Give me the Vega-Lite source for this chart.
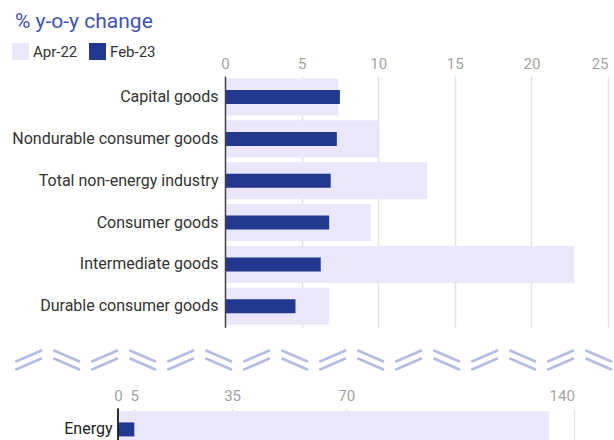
{
  "$schema": "https://vega.github.io/schema/vega-lite/v6.json",
  "padding": {"left": 10, "top": 10, "right": 0, "bottom": 0},
  "config": {
    "font": "Roboto",
    "view": {"stroke": null},
    "axis": {"labelFont": "Roboto"},
    "legend": {"labelFont": "Roboto"}
  },
  "title": {
    "text": "% y-o-y change",
    "anchor": "start",
    "fontSize": 21,
    "fontWeight": "normal",
    "color": "#4153B4",
    "offset": 11.5,
    "dx": 5
  },
  "datasets": {
    "industry": [
      {"category": "Capital goods", "series": "Apr-22", "value": 7.4},
      {"category": "Capital goods", "series": "Feb-23", "value": 7.5},
      {"category": "Nondurable consumer goods", "series": "Apr-22", "value": 10.0},
      {"category": "Nondurable consumer goods", "series": "Feb-23", "value": 7.3},
      {"category": "Total non-energy industry", "series": "Apr-22", "value": 13.2},
      {"category": "Total non-energy industry", "series": "Feb-23", "value": 6.9},
      {"category": "Consumer goods", "series": "Apr-22", "value": 9.5},
      {"category": "Consumer goods", "series": "Feb-23", "value": 6.8},
      {"category": "Intermediate goods", "series": "Apr-22", "value": 22.8},
      {"category": "Intermediate goods", "series": "Feb-23", "value": 6.25},
      {"category": "Durable consumer goods", "series": "Apr-22", "value": 6.8},
      {"category": "Durable consumer goods", "series": "Feb-23", "value": 4.6}
    ],
    "breaks": [
      {"k": 0, "dir": "up"}, {"k": 1, "dir": "down"},
      {"k": 2, "dir": "up"}, {"k": 3, "dir": "down"},
      {"k": 4, "dir": "up"}, {"k": 5, "dir": "down"},
      {"k": 6, "dir": "up"}, {"k": 7, "dir": "down"},
      {"k": 8, "dir": "up"}, {"k": 9, "dir": "down"},
      {"k": 10, "dir": "up"}, {"k": 11, "dir": "down"},
      {"k": 12, "dir": "up"}, {"k": 13, "dir": "down"},
      {"k": 14, "dir": "up"}, {"k": 15, "dir": "down"}
    ],
    "energy": [
      {"category": "Energy", "series": "Apr-22", "value": 132.3},
      {"category": "Energy", "series": "Feb-23", "value": 5.0}
    ]
  },
  "spacing": 16,
  "resolve": {"scale": {"x": "independent", "y": "independent", "color": "independent", "shape": "independent"}, "legend": {"color": "independent"}},
  "vconcat": [
    {
      "width": 383,
      "height": 251.3,
      "data": {"name": "industry"},
      "encoding": {
        "y": {
          "field": "category",
          "type": "nominal",
          "title": null,
          "sort": ["Capital goods", "Nondurable consumer goods", "Total non-energy industry", "Consumer goods", "Intermediate goods", "Durable consumer goods"],
          "scale": {"paddingInner": 0.115, "paddingOuter": 0.06},
          "axis": {
            "ticks": false,
            "zindex": 1,
            "domainColor": "#444444",
            "domainWidth": 1.5,
            "labelPadding": 7,
            "labelFontSize": 16,
            "labelColor": "#333333",
            "labelLimit": 400,
            "minExtent": 215,
            "grid": false
          }
        },
        "x": {
          "field": "value",
          "type": "quantitative",
          "title": null,
          "scale": {"domain": [0, 25], "nice": false},
          "axis": {
            "orient": "top",
            "values": [0, 5, 10, 15, 20, 25],
            "domain": false,
            "ticks": false,
            "labelPadding": 5,
            "labelFontSize": 15,
            "labelColor": "#A3A3A3",
            "gridColor": "#E4E4E4",
            "gridWidth": 1.5,
            "labelAlign": {"condition": {"test": "datum.value == 25", "value": "right"}, "value": "center"}
          }
        },
        "color": {
          "field": "series",
          "type": "nominal",
          "scale": {"domain": ["Apr-22", "Feb-23"], "range": ["#EAE6FB", "#22378E"]},
          "legend": {
            "orient": "none",
            "legendX": -213,
            "legendY": -33,
            "direction": "horizontal",
            "title": null,
            "symbolType": "square",
            "symbolSize": 289,
            "symbolStrokeWidth": 0,
            "labelFontSize": 15,
            "labelColor": "#333333",
            "labelOffset": 4,
            "columnPadding": 11
          }
        }
      },
      "layer": [
        {"transform": [{"filter": "datum.series == 'Apr-22'"}], "mark": {"type": "bar"}},
        {"transform": [{"filter": "datum.series == 'Feb-23'"}], "mark": {"type": "bar", "height": 14}}
      ]
    },
    {
      "spacing": 12.5,
      "vconcat": [
        {
          "width": 383,
          "height": 24,
          "data": {"name": "breaks"},
          "mark": {"type": "point", "filled": false, "strokeWidth": 2.7, "color": "#B4BCE4", "opacity": 1, "size": 784},
          "encoding": {
            "x": {"field": "k", "type": "quantitative", "scale": {"domain": [0, 15], "range": [-196.3, 373.7], "nice": false, "zero": false}, "axis": null},
            "shape": {
              "field": "dir",
              "type": "nominal",
              "scale": {"domain": ["up", "down"], "range": ["M-0.95,0.12L0.95,-0.7M-0.95,0.7L0.95,-0.12", "M-0.95,-0.7L0.95,0.12M-0.95,-0.12L0.95,0.7"]},
              "legend": null
            }
          }
        },
        {
          "width": 383,
          "height": 41.84,
          "data": {"name": "energy"},
          "encoding": {
            "y": {
              "field": "category",
              "type": "nominal",
              "title": null,
              "scale": {"paddingInner": 0.115, "paddingOuter": 0.06},
              "axis": {
                "ticks": false,
                "domain": false,
                "labelPadding": 113,
                "labelFontSize": 16,
                "labelColor": "#222222",
                "minExtent": 215,
                "grid": false
              }
            },
            "x": {
              "field": "value",
              "type": "quantitative",
              "title": null,
              "scale": {"domain": [0, 150], "range": [-107, 382], "nice": false},
              "axis": {
                "orient": "top",
                "values": [0, 5, 35, 70, 140],
                "domain": false,
                "ticks": false,
                "labelPadding": 5,
                "labelFontSize": 15,
                "labelColor": "#A3A3A3",
                "gridColor": "#E4E4E4",
                "gridWidth": 1.5,
                "labelAlign": {"condition": {"test": "datum.value == 140", "value": "right"}, "value": "center"}
              }
            },
            "color": {
              "field": "series",
              "type": "nominal",
              "scale": {"domain": ["Apr-22", "Feb-23"], "range": ["#EAE6FB", "#22378E"]},
              "legend": null
            }
          },
          "layer": [
            {"transform": [{"filter": "datum.series == 'Apr-22'"}], "mark": {"type": "bar"}},
            {"transform": [{"filter": "datum.series == 'Feb-23'"}], "mark": {"type": "bar", "height": 14}},
            {"mark": {"type": "rule", "color": "#222222", "strokeWidth": 1.5}, "encoding": {"x": {"datum": 0}, "color": {"value": "#222222"}, "y": {"value": 0}, "y2": {"value": 41.84}}}
          ]
        }
      ]
    }
  ]
}
